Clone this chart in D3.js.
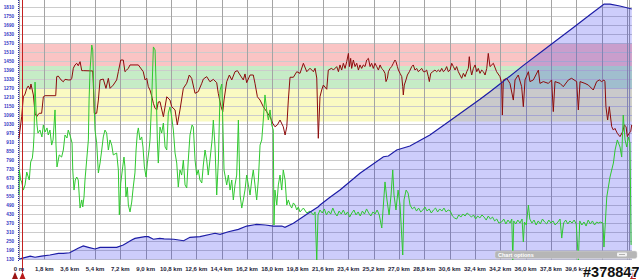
<!DOCTYPE html>
<html>
<head>
<meta charset="utf-8">
<script src="https://cdn.jsdelivr.net/npm/d3@7"></script>
<style>
body{margin:0;background:#fff}
svg{display:block}
</style>
</head>
<body>
<svg id="chart"></svg>
<script>
// distance ticks (km) and their labels
var distTicks = [0,1.8,3.6,5.4,7.2,9.0,10.8,12.6,14.4,16.2,18.0,19.8,21.6,23.4,25.2,27.0,28.8,30.6,32.4,34.2,36.0,37.8,39.6,41.4,43.2]
var distLabels = ["0 m","1,8 km","3,6 km","5,4 km","7,2 km","9,0 km","10,8 km","12,6 km","14,4 km","16,2 km","18,0 km","19,8 km","21,6 km","23,4 km","25,2 km","27,0 km","28,8 km","30,6 km","32,4 km","34,2 km","36,0 km","37,8 km","39,6 km","41,4 km","43,2 km"]
var valueTicks = [130,190,250,310,370,430,490,550,610,670,730,790,850,910,970,1030,1090,1150,1210,1270,1330,1390,1450,1510,1570,1630,1690,1750,1810]

// zone bands [top, bottom]
var zoneBands = [[1570,1420],[1420,1270],[1270,1050]]
var zoneColors = ['#fac4c4','#c6ecc6','#fafac2']

// elevation profile [km, value]
var elevSeries = [[0,132],[0.2,138],[0.8,153],[1.14,145],[1.6,153],[2.2,160],[2.8,171],[3.15,171],[3.6,175],[4.2,205],[4.57,220],[4.93,211],[5.4,200],[5.76,211],[6.47,211],[6.94,211],[7.41,227],[8.01,260],[8.24,271],[8.95,282],[9.19,282],[9.55,265],[10.0,271],[10.31,267],[11.0,265],[11.7,255],[12.15,278],[12.86,282],[13.93,305],[14.29,298],[14.88,315],[15.59,331],[16.18,353],[16.89,364],[17.5,360],[18.08,353],[18.68,353],[18.9,345],[19.5,371],[20.45,431],[21.27,482],[21.39,493],[22.1,545],[22.81,593],[24.23,705],[25.9,815],[26.25,820],[26.84,860],[27.78,887],[29.2,960],[30.6,1053],[32.76,1198],[33.47,1249],[34.2,1301],[35.8,1421],[37.5,1541],[39.4,1677],[40.6,1763],[41.58,1833],[42.0,1833],[42.7,1820],[43.55,1800]]

// dark red series [km, value]
var redSeries = [[0,940],[0.19,1082],[0.31,1215],[0.43,1233],[0.55,1271],[0.66,1287],[0.78,1265],[0.85,1300],[1.02,1227],[1.14,1105],[1.26,1082],[1.33,1093],[1.44,1105],[1.61,1105],[1.73,1215],[1.85,1222],[2.61,1222],[2.68,1349],[2.79,1353],[2.99,1327],[3.15,1315],[3.27,1331],[3.5,1327],[3.67,1327],[3.75,1338],[3.86,1405],[3.98,1427],[4.1,1438],[4.21,1422],[4.34,1449],[4.46,1389],[4.57,1389],[5.24,1387],[5.28,1305],[5.35,1105],[5.52,1105],[5.64,1193],[5.76,1327],[5.99,1333],[6.18,1271],[6.35,1338],[6.47,1271],[6.7,1293],[6.94,1327],[7.06,1382],[7.23,1460],[7.41,1460],[7.53,1382],[7.65,1393],[7.77,1405],[7.89,1427],[8.48,1427],[8.83,1382],[8.96,1327],[9.08,1338],[9.19,1282],[9.31,1260],[9.43,1220],[9.55,1171],[9.67,1138],[9.79,1127],[9.9,1180],[10.02,1182],[10.26,1082],[10.5,1215],[10.73,1193],[10.85,1149],[11.09,1127],[11.25,1027],[11.44,1127],[11.68,1271],[11.92,1305],[12.1,1360],[12.27,1338],[12.51,1238],[12.74,1249],[12.99,1305],[13.1,1333],[13.34,1349],[13.57,1315],[13.81,1331],[14.05,1309],[14.16,1238],[14.36,1149],[14.48,1115],[14.57,1193],[14.76,1315],[14.95,1360],[15.12,1327],[15.35,1382],[15.52,1389],[15.71,1360],[15.94,1327],[16.06,1367],[16.18,1309],[16.42,1360],[16.65,1360],[16.77,1305],[16.94,1215],[17.13,1193],[17.36,1149],[17.6,1115],[17.84,1082],[18.03,1038],[18.19,1015],[18.36,1027],[18.55,1060],[18.78,1015],[18.91,960],[19.03,1015],[19.14,1193],[19.26,1345],[19.5,1345],[19.74,1382],[19.97,1371],[20.21,1438],[20.45,1382],[20.68,1405],[20.92,1382],[21.04,1405],[21.16,1340],[21.27,938],[21.39,1215],[21.51,1260],[21.63,1293],[21.87,1265],[21.98,1393],[22.22,1405],
[22.34,1393],[22.58,1416],[22.7,1382],[22.81,1427],[22.93,1393],[23.05,1438],[23.17,1404],[23.29,1449],[23.41,1504],[23.48,1416],[23.57,1471],[23.64,1404],[23.76,1460],[23.88,1416],[24.0,1438],[24.12,1393],[24.23,1427],[24.35,1404],[24.47,1427],[24.59,1416],[24.71,1460],[24.83,1471],[24.95,1416],[25.06,1438],[25.18,1404],[25.3,1438],[25.42,1416],[25.54,1393],[25.66,1427],[25.77,1404],[25.89,1393],[26.01,1371],[26.08,1316],[26.18,1338],[26.25,1382],[26.37,1404],[26.48,1416],[26.6,1438],[26.72,1460],[26.79,1449],[26.89,1416],[26.96,1393],[27.08,1371],[27.2,1349],[27.27,1282],[27.31,1227],[27.38,1293],[27.5,1327],[27.6,1360],[27.74,1382],[27.91,1416],[28.02,1427],[28.14,1393],[28.26,1404],[28.38,1382],[28.5,1393],[28.62,1404],[28.74,1382],[28.85,1382],[28.97,1393],[29.09,1349],[29.16,1316],[29.26,1371],[29.4,1382],[29.56,1393],[29.68,1382],[29.8,1393],[29.92,1382],[30.04,1404],[30.16,1382],[30.28,1393],[30.39,1416],[30.51,1382],[30.63,1393],[30.75,1438],[30.87,1416],[30.99,1393],[31.1,1416],[31.22,1382],[31.34,1360],[31.46,1338],[31.58,1371],[31.7,1349],[31.82,1382],[31.93,1404],[32.0,1482],[32.1,1393],[32.17,1360],[32.29,1404],[32.41,1427],[32.53,1382],[32.64,1404],[32.76,1371],[32.88,1393],[33.0,1382],[33.12,1360],[33.24,1404],[33.35,1504],[33.47,1416],
[33.71,1438],[33.94,1382],[34.18,1349],[34.3,1304],[34.35,1093],[34.42,1327],[34.66,1338],[34.89,1304],[35.13,1193],[35.25,1327],[35.48,1360],[35.72,1282],[35.84,1149],[35.96,1327],[36.2,1382],[36.31,1316],[36.55,1327],[36.91,1393],[37.02,1304],[37.26,1316],[37.62,1304],[37.85,1327],[37.97,1116],[38.09,1316],[38.45,1304],[38.68,1282],[39.04,1327],[39.27,1338],[39.63,1316],[39.75,1127],[39.87,1316],[40.22,1304],[40.46,1293],[40.81,1260],[41.05,1316],[41.24,1327],[41.41,1316],[41.57,1327],[41.64,1316],[41.71,1149],[41.83,1060],[41.95,1149],[42.12,1016],[42.24,993],[42.35,1004],[42.52,971],[42.71,949],[42.9,982],[43.02,1027],[43.14,1016],[43.23,949],[43.35,971],[43.47,982],[43.54,1027]]

// green series [km, value]
var greenSeries = [[0,560],[0.02,727],[0.12,660],[0.19,647],[0.31,593],[0.43,627],[0.55,713],[0.66,680],[0.73,660],[0.83,780],[0.95,807],[1.02,873],[1.07,960],[1.14,1313],[1.21,1127],[1.28,1027],[1.35,973],[1.49,993],[1.63,947],[1.73,1027],[1.85,980],[1.99,1007],[2.08,960],[2.2,993],[2.32,893],[2.42,927],[2.56,1127],[2.63,893],[2.7,747],[2.86,827],[3.03,813],[3.15,860],[3.27,960],[3.41,940],[3.5,993],[3.62,960],[3.77,907],[3.82,727],[3.91,593],[4.0,660],[4.1,680],[4.21,660],[4.34,473],[4.46,527],[4.53,480],[4.62,547],[4.69,660],[4.81,793],[4.93,927],[4.98,1193],[5.05,1393],[5.17,1560],[5.24,1527],[5.33,1193],[5.4,993],[5.52,907],[5.64,707],[5.76,773],[5.88,860],[5.99,947],[6.11,993],[6.23,973],[6.35,860],[6.47,927],[6.59,893],[6.7,827],[6.94,840],[7.06,727],[7.13,427],[7.23,640],[7.37,747],[7.46,813],[7.53,747],[7.6,547],[7.7,613],[7.77,493],[7.89,447],[8.01,513],[8.12,613],[8.24,707],[8.32,860],[8.41,973],[8.48,1007],[8.6,927],[8.72,947],[8.81,880],[8.91,747],[9.03,680],[9.12,773],[9.24,860],[9.31,927],[9.43,1193],[9.55,1547],[9.67,1527],[9.74,1307],[9.83,927],[9.9,773],[10.02,1013],[10.14,973],[10.26,1040],[10.38,880],[10.5,860],[10.61,1107],[10.73,1147],[10.85,1080],[10.97,993],[11.09,840],[11.21,773],[11.32,613],[11.44,727],[11.56,693],[11.68,793],[11.8,627],[11.92,607],[12.03,793],[12.15,960],[12.3,1027],[12.39,1013],[12.51,793],[12.63,693],[12.74,727],[12.86,660],[12.99,640],[13.1,760],[13.22,860],[13.34,793],[13.45,693],[13.57,793],[13.72,927],[13.81,1060],[13.93,880],[14.05,560],[14.17,793],[14.29,1260],[14.41,1300],[14.48,1060],[14.57,727],[14.76,627],[14.88,693],[15.0,593],[15.12,660],[15.23,527],[15.35,627],[15.47,693],[15.59,1060],[15.71,560],[15.83,473],[15.94,527],[16.06,593],[16.18,693],[16.3,627],[16.42,560],[16.54,660],[16.65,727],[16.77,627],[16.89,527],[17.01,660],[17.13,893],[17.25,927],[17.36,1060],[17.48,1227],[17.6,1127],[17.72,1060],[17.84,1127],[17.96,1027],[18.07,993],[18.12,360],[18.19,593],[18.32,493],[18.43,627],[18.55,693],[18.67,593],[18.78,727],[18.91,660],[19.03,493],[19.14,527],[19.26,493],[19.38,473],[19.5,507],[19.62,493],[19.74,460],[19.85,480],[19.97,447],[20.21,473],[20.45,440],[20.68,453],[20.92,427],[21.04,447],[21.16,127],[21.25,427],[21.39,460],
[21.55,440],[21.7,467],[21.85,427],[22.0,453],[22.15,433],[22.3,473],[22.45,440],[22.6,420],[22.75,453],[22.9,433],[23.05,460],[23.2,427],[23.35,447],[23.5,413],[23.65,440],[23.8,460],[23.95,427],[24.1,447],[24.25,420],[24.4,453],[24.55,433],[24.7,467],[24.85,440],[25.0,420],[25.15,447],[25.3,433],[25.45,460],[25.6,427],[25.78,340],[26.01,647],[26.15,527],[26.3,427],[26.44,560],[26.56,727],[26.65,560],[26.79,460],[26.94,593],[27.08,493],[27.27,160],[27.36,527],[27.51,593],[27.65,573],[27.79,493],
[27.95,467],[28.1,480],[28.25,453],[28.4,473],[28.55,447],[28.7,460],[28.85,480],[29.0,453],[29.15,467],[29.3,440],[29.45,460],[29.6,473],[29.75,447],[29.9,467],[30.05,453],[30.2,473],[30.35,447],[30.5,460],[30.65,453],[30.8,420],[30.95,407],[31.1,400],[31.25,427],[31.4,413],[31.55,433],[31.7,420],[31.85,440],[32.0,427],[32.15,413],[32.3,427],[32.45,400],[32.6,420],[32.75,407],[32.9,427],[33.05,413],[33.2,393],[33.35,420],[33.5,400],[33.65,413],[33.8,387],[33.95,400],[34.1,373],
[34.3,380],[34.45,400],[34.6,367],[34.75,393],[34.9,373],[35.02,400],[35.09,127],[35.16,387],[35.3,367],[35.45,393],[35.6,373],[35.75,400],[35.84,247],[35.92,380],[36.05,360],[36.2,493],[36.3,400],[36.45,373],[36.6,393],[36.75,360],[36.9,387],[37.05,367],[37.2,400],[37.35,380],[37.5,367],[37.65,393],[37.8,373],[37.95,387],[38.1,360],[38.3,380],[38.45,400],[38.57,273],[38.7,373],[38.85,393],[39.0,367],[39.15,387],[39.3,373],[39.45,393],[39.6,367],[39.75,127],[39.85,387],[40.0,360],[40.15,380],[40.3,353],[40.45,393],[40.6,367],[40.75,387],[40.9,360],[41.05,380],[41.2,373],[41.29,380],[41.5,373],[41.57,213],[41.77,547],[42.0,680],[42.24,773],[42.36,860],[42.52,927],[42.71,880],[42.83,813],[42.94,1093],[43.07,927],[43.19,880],[43.3,947],[43.42,907],[43.5,227]]

var screen = {width:639, height:279}
var left = 19, right = 632, bottom = 259.5

var xScale = d3.scaleLinear().domain([0,43.2]).range([19,626.9])
var yScale = d3.scaleLinear().domain([130,1810]).range([259.5,7.5])

var svg = d3.select('#chart')
  .attr('width',screen.width)
  .attr('height',screen.height)
  .style('font-family','"Liberation Sans", Arial, sans-serif')

svg.append('rect').attr('width',screen.width).attr('height',screen.height).attr('fill','#fff')

// zone bands
svg.selectAll('rect.band')
  .data(zoneBands)
  .enter()
  .append('rect')
  .attr('class','band')
  .attr('x',left)
  .attr('y',function(d){return yScale(d[0])})
  .attr('width',right-left)
  .attr('height',function(d){return yScale(d[1])-yScale(d[0])})
  .attr('fill',function(d,i){return zoneColors[i]})

// horizontal grid
svg.selectAll('line.hgrid')
  .data(valueTicks)
  .enter()
  .append('line')
  .attr('class','hgrid')
  .attr('x1',left).attr('x2',right)
  .attr('y1',function(d){return yScale(d)})
  .attr('y2',function(d){return yScale(d)})
  .attr('stroke','#cccccc')

// vertical grid
svg.selectAll('line.vgrid')
  .data(distTicks)
  .enter()
  .append('line')
  .attr('class','vgrid')
  .attr('x1',function(d){return Math.round(xScale(d))+0.5})
  .attr('x2',function(d){return Math.round(xScale(d))+0.5})
  .attr('y1',0).attr('y2',bottom)
  .attr('stroke','#a4a4a4')
svg.append('line').attr('x1',629.5).attr('x2',629.5).attr('y1',0).attr('y2',bottom).attr('stroke','#a4a4a4')

// elevation area
var area = d3.area()
  .x(function(d){return xScale(d[0])})
  .y0(yScale(130))
  .y1(function(d){return yScale(d[1])})

var line = d3.line()
  .x(function(d){return xScale(d[0])})
  .y(function(d){return yScale(d[1])})

svg.append('path').datum(elevSeries)
  .attr('d',area)
  .attr('fill','rgba(20,20,235,0.21)')

svg.append('path').datum(redSeries)
  .attr('d',line)
  .attr('fill','none')
  .attr('stroke','#8c0c0c')
  .attr('stroke-width',1)

svg.append('path').datum(greenSeries)
  .attr('d',line)
  .attr('fill','none')
  .attr('stroke','#30c830')
  .attr('stroke-width',1)

svg.append('path').datum(elevSeries)
  .attr('d',line)
  .attr('fill','none')
  .attr('stroke','#1c1ca6')
  .attr('stroke-width',1.2)

// left axis lines
svg.append('line').attr('x1',18.5).attr('x2',18.5).attr('y1',0).attr('y2',262)
  .attr('stroke','#2a2aa0').attr('stroke-dasharray','1,1')
svg.append('line').attr('x1',22.5).attr('x2',22.5).attr('y1',0).attr('y2',272)
  .attr('stroke','#c42020')

// y labels
svg.selectAll('text.ylab')
  .data(valueTicks)
  .enter()
  .append('text')
  .attr('class','ylab')
  .attr('x',14)
  .attr('y',function(d){return yScale(d)+1.6})
  .attr('text-anchor','end')
  .attr('font-size','4.6px')
  .attr('font-weight','bold')
  .attr('fill','#3434c4')
  .text(function(d){return d})

// x labels
svg.selectAll('text.xlab')
  .data(distTicks)
  .enter()
  .append('text')
  .attr('class','xlab')
  .attr('x',function(d){return xScale(d)})
  .attr('y',271)
  .attr('text-anchor','middle')
  .attr('font-size','6px')
  .attr('font-weight','bold')
  .attr('fill','#1c1c38')
  .text(function(d,i){return distLabels[i]})

// range markers
var tri = function(cx){return 'M'+(cx-3)+',279L'+cx+',272L'+(cx+3)+',279Z'}
svg.append('path').attr('d',tri(15)).attr('fill','#9a1414')
svg.append('path').attr('d',tri(22.5)).attr('fill','#b81a1a')
svg.append('path').attr('d',tri(633)).attr('fill','#b81a1a')

// chart options bar
svg.append('rect').attr('x',495).attr('y',251).attr('width',142).attr('height',7.5).attr('rx',2)
  .attr('fill','#b6b6b6').attr('stroke','#d8d8d8').attr('stroke-width',0.5)
svg.append('text').attr('x',498).attr('y',257).attr('font-size','5.5px').attr('font-weight','bold')
  .attr('fill','#ffffff').text('Chart options')
svg.append('rect').attr('x',617).attr('y',252.5).attr('width',10).attr('height',4).attr('rx',1)
  .attr('fill','#f2f2f2')
svg.append('line').attr('x1',619).attr('x2',625).attr('y1',254.5).attr('y2',254.5).attr('stroke','#a0a0a0').attr('stroke-width',0.8)

// watermark
svg.append('text')
  .attr('x',583).attr('y',277)
  .attr('font-size','14.5px')
  .attr('font-weight','bold')
  .attr('fill','#111')
  .attr('stroke','#fff')
  .attr('stroke-width',2)
  .attr('paint-order','stroke')
  .text('#378847')
</script>
</body>
</html>
